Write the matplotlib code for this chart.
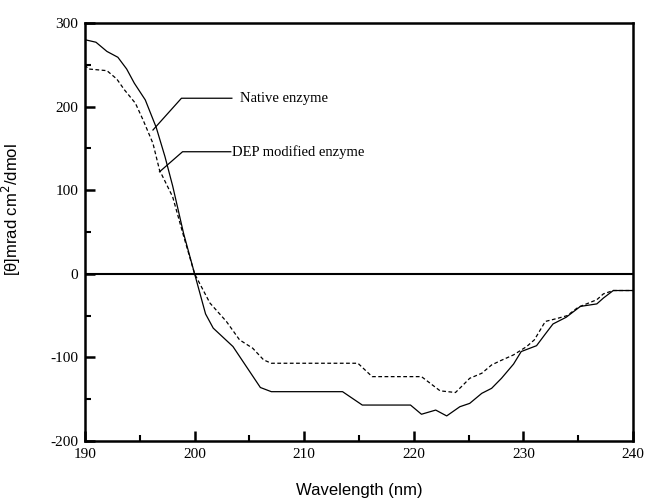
import numpy as np
import matplotlib
matplotlib.use("Agg")
from matplotlib import pyplot as plt
from matplotlib.ticker import MultipleLocator

plt.rcParams["axes.unicode_minus"] = False

# CD spectra
wl_native = [190, 191, 192, 193, 193.8, 194.5, 195.5, 196.5, 197.3, 198, 199, 200, 201, 201.7,
             203.5, 206, 207, 213.5, 215.3, 219.7, 220.7, 222, 223, 224.2, 225.1, 226.2,
             227.1, 228, 229.1, 229.8, 231.2, 232, 232.7, 233.9, 235.2, 236.7, 237.3,
             238.2, 240]
cd_native = [280, 277, 266, 259, 245, 228, 208, 175, 140, 105, 48, 0, -48, -65,
             -87, -136, -141, -141, -157, -157, -168, -163, -170, -159, -155, -143,
             -137, -125, -108, -93, -86, -72, -60, -52, -39, -36, -29,
             -20, -20]

wl_dep = [190, 190.3, 192, 192.9, 193.6, 194.6, 195.3, 196.2, 196.8, 198, 199, 200,
          201.4, 202.9, 204.1, 205.3, 206.3, 207, 214.9, 216.2, 220.7, 222.4, 223.8,
          224.5, 225.1, 226.2, 227.1, 227.9, 229.1, 230.3, 231, 232, 233.2, 234, 235,
          236.7, 237.3, 238.2, 240]
cd_dep = [250, 245, 243, 233, 220, 204, 184, 156, 124, 92, 45, 0,
          -35, -57, -79, -89, -103, -107, -107, -123, -123, -140, -142,
          -133, -125, -119, -109, -104, -97, -87, -79, -57, -53, -50, -40,
          -31, -24, -20, -20]

fig = plt.figure(figsize=(6.47, 5.01), dpi=100)
ax = fig.add_axes([85 / 647, 60 / 501, 548 / 647, 418 / 501])

ax.plot(wl_native, cd_native, color="black", lw=0.9)
ax.plot(wl_dep, cd_dep, color="black", lw=0.9, ls=(0, (3, 2)))
ax.axhline(0, color="black", lw=1.5)

ax.set_xlim(190, 240)
ax.set_ylim(-200, 300)
ax.xaxis.set_major_locator(MultipleLocator(10))
ax.xaxis.set_minor_locator(MultipleLocator(5))
ax.yaxis.set_major_locator(MultipleLocator(100))
ax.yaxis.set_minor_locator(MultipleLocator(50))
ax.tick_params(which="major", direction="in", length=7, width=1.8, pad=5)
ax.tick_params(which="minor", direction="in", length=4, width=1.5)
for s in ax.spines.values():
    s.set_linewidth(1.8)

for lab in ax.get_xticklabels() + ax.get_yticklabels():
    lab.set_family("Liberation Serif")
    lab.set_fontsize(11)

ax.set_xlabel("Wavelength (nm)", family="Liberation Sans", fontsize=12)
ax.set_ylabel("[θ]mrad cm$^2$/dmol", family="Liberation Sans", fontsize=12)
ax.yaxis.set_label_coords(-0.113, 0.553)
ax.xaxis.set_label_coords(0.5, -0.1)

# callout labels with elbow leader lines
ax.plot([196.2, 198.8, 203.4], [172, 210, 210], color="black", lw=0.9)
ax.text(204.1, 210, "Native enzyme", family="Liberation Serif", fontsize=10.5, va="center")
ax.plot([196.8, 198.9, 203.3], [122, 146, 146], color="black", lw=0.9)
ax.text(203.4, 146, "DEP modified enzyme", family="Liberation Serif", fontsize=10.5, va="center")

fig.savefig("out.png", dpi=100)
